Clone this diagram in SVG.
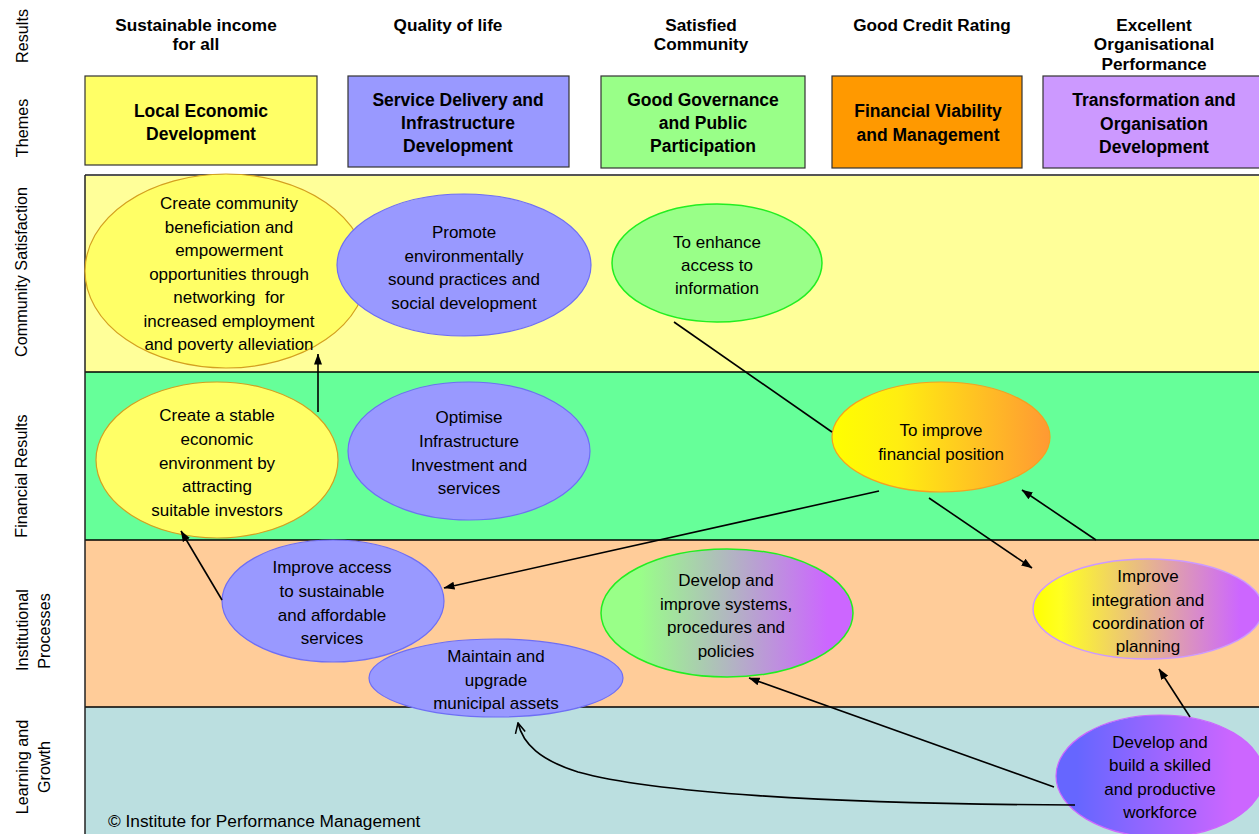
<svg xmlns="http://www.w3.org/2000/svg" width="1259" height="834" viewBox="0 0 1259 834">
<defs>
<style>
text{font-family:"Liberation Sans",Arial,sans-serif;fill:#000}
.hdr{font-size:17.2px;font-weight:bold;text-anchor:middle}
.box{font-size:17.5px;font-weight:bold;text-anchor:middle}
.lbl{font-size:16.2px;text-anchor:middle}
.el{font-size:17px;text-anchor:middle}
.band{stroke:#000;stroke-width:1.5}
.theme{stroke:#333;stroke-width:1.2}
.yel{fill:#FFFF66;stroke:#D4A020;stroke-width:1.2}
.blu{fill:#9999FF;stroke:#6E6EF5;stroke-width:1.2}
.grn{fill:#99FF88;stroke:#22EE22;stroke-width:1.5}
.con{fill:none;stroke:#000;stroke-width:1.6}
</style>
<linearGradient id="gOr" x1="0" y1="0" x2="1" y2="0">
<stop offset="0" stop-color="#FFFF00"/><stop offset="0.3" stop-color="#FFEE11"/><stop offset="1" stop-color="#FF9933"/>
</linearGradient>
<linearGradient id="gGP" x1="0" y1="0" x2="1" y2="0">
<stop offset="0" stop-color="#99FF88"/><stop offset="0.15" stop-color="#99FF88"/><stop offset="0.9" stop-color="#CC66FF"/><stop offset="1" stop-color="#CC66FF"/>
</linearGradient>
<linearGradient id="gYP" x1="0" y1="0" x2="1" y2="0">
<stop offset="0" stop-color="#FFFF00"/><stop offset="0.12" stop-color="#FFFF22"/><stop offset="0.9" stop-color="#CC66FF"/><stop offset="1" stop-color="#CC66FF"/>
</linearGradient>
<linearGradient id="gBP" x1="0" y1="0" x2="1" y2="0">
<stop offset="0" stop-color="#6666FF"/><stop offset="0.1" stop-color="#6666FF"/><stop offset="0.85" stop-color="#CC66FF"/><stop offset="1" stop-color="#CC66FF"/>
</linearGradient>
<marker id="arr" viewBox="0 0 11 10" refX="10.5" refY="5" markerWidth="11" markerHeight="10" markerUnits="userSpaceOnUse" orient="auto">
<path d="M0,1 L11,5 L0,9 z" fill="#000"/>
</marker>
<marker id="open" viewBox="0 0 12 12" refX="11" refY="6" markerWidth="12" markerHeight="12" markerUnits="userSpaceOnUse" orient="auto">
<path d="M1,1 L11,6 L1,11" fill="none" stroke="#000" stroke-width="1.5"/>
</marker>
</defs>

<rect x="0" y="0" width="1259" height="834" fill="#FFFFFF"/>

<!-- row labels -->
<g id="row-labels">
<text class="lbl" transform="translate(28,36) rotate(-90)">Results</text>
<text class="lbl" transform="translate(28,128) rotate(-90)">Themes</text>
<text class="lbl" transform="translate(27,272) rotate(-90)">Community Satisfaction</text>
<text class="lbl" transform="translate(27,476) rotate(-90)">Financial Results</text>
<text class="lbl" transform="translate(28,630) rotate(-90)">Institutional</text>
<text class="lbl" transform="translate(50,631) rotate(-90)">Processes</text>
<text class="lbl" transform="translate(28,767) rotate(-90)">Learning and</text>
<text class="lbl" transform="translate(50,767) rotate(-90)">Growth</text>
</g>

<!-- results headers -->
<g id="results">
<text class="hdr" x="196" y="31">Sustainable income</text>
<text class="hdr" x="196" y="50">for all</text>
<text class="hdr" x="448" y="31">Quality of life</text>
<text class="hdr" x="701" y="31">Satisfied</text>
<text class="hdr" x="701" y="50">Community</text>
<text class="hdr" x="932" y="31">Good Credit Rating</text>
<text class="hdr" x="1154" y="31">Excellent</text>
<text class="hdr" x="1154" y="50">Organisational</text>
<text class="hdr" x="1154" y="70">Performance</text>
</g>

<!-- themes -->
<g id="theme-led">
<rect class="theme" x="85" y="76" width="232" height="89" fill="#FFFF66"/>
<text class="box" x="201" y="117">Local Economic</text>
<text class="box" x="201" y="140">Development</text>
</g>
<g id="theme-sdid">
<rect class="theme" x="348" y="76" width="221" height="91" fill="#9999FF"/>
<text class="box" x="458" y="106">Service Delivery and</text>
<text class="box" x="458" y="129">Infrastructure</text>
<text class="box" x="458" y="152">Development</text>
</g>
<g id="theme-ggpp">
<rect class="theme" x="601" y="76" width="204" height="92" fill="#99FF88"/>
<text class="box" x="703" y="106">Good Governance</text>
<text class="box" x="703" y="129">and Public</text>
<text class="box" x="703" y="152">Participation</text>
</g>
<g id="theme-fvm">
<rect class="theme" x="832" y="76" width="190" height="92" fill="#FF9900"/>
<text class="box" x="928" y="117">Financial Viability</text>
<text class="box" x="928" y="141">and Management</text>
</g>
<g id="theme-tod">
<rect class="theme" x="1043" y="76" width="220" height="92" fill="#CC99FF"/>
<text class="box" x="1154" y="106">Transformation and</text>
<text class="box" x="1154" y="130">Organisation</text>
<text class="box" x="1154" y="153">Development</text>
</g>

<!-- bands -->
<g id="bands">
<rect x="85" y="175" width="1180" height="197" fill="#FFFF99"/>
<rect x="85" y="372" width="1180" height="168" fill="#66FF99"/>
<rect x="85" y="540" width="1180" height="167" fill="#FFCC99"/>
<rect x="85" y="707" width="1180" height="130" fill="#BBDFE0"/>
<line x1="85" y1="175" x2="1259" y2="175" stroke="#555" stroke-width="2.2"/>
<line class="band" x1="85" y1="372" x2="1259" y2="372"/>
<line class="band" x1="85" y1="540" x2="1259" y2="540"/>
<line class="band" x1="85" y1="707" x2="1259" y2="707"/>
<line x1="85" y1="175" x2="85" y2="834" stroke="#222" stroke-width="1.5"/>
</g>

<!-- nodes -->
<g id="n-community">
<ellipse class="yel" cx="226" cy="271" rx="141" ry="97"/>
<text class="el" x="229" y="209">Create community</text>
<text class="el" x="229" y="232.5">beneficiation and</text>
<text class="el" x="229" y="256">empowerment</text>
<text class="el" x="229" y="279.5">opportunities through</text>
<text class="el" x="229" y="303">networking&#160; for</text>
<text class="el" x="229" y="326.5">increased employment</text>
<text class="el" x="229" y="350">and poverty alleviation</text>
</g>
<g id="n-promote">
<ellipse class="blu" cx="464" cy="265" rx="127" ry="71"/>
<text class="el" x="464" y="238">Promote</text>
<text class="el" x="464" y="261.5">environmentally</text>
<text class="el" x="464" y="285">sound practices and</text>
<text class="el" x="464" y="308.5">social development</text>
</g>
<g id="n-enhance">
<ellipse class="grn" cx="717" cy="263" rx="105" ry="59"/>
<text class="el" x="717" y="248">To enhance</text>
<text class="el" x="717" y="271">access to</text>
<text class="el" x="717" y="294">information</text>
</g>
<g id="n-stable">
<ellipse class="yel" cx="217" cy="460" rx="121" ry="78"/>
<text class="el" x="217" y="421">Create a stable</text>
<text class="el" x="217" y="445">economic</text>
<text class="el" x="217" y="469">environment by</text>
<text class="el" x="217" y="492">attracting</text>
<text class="el" x="217" y="516">suitable investors</text>
</g>
<g id="n-optimise">
<ellipse class="blu" cx="469" cy="451" rx="121" ry="69"/>
<text class="el" x="469" y="423">Optimise</text>
<text class="el" x="469" y="447">Infrastructure</text>
<text class="el" x="469" y="471">Investment and</text>
<text class="el" x="469" y="494">services</text>
</g>
<g id="n-financial">
<ellipse cx="941" cy="437" rx="109" ry="55" fill="url(#gOr)" stroke="#F5A020" stroke-width="1.2"/>
<text class="el" x="941" y="436">To improve</text>
<text class="el" x="941" y="460">financial position</text>
</g>
<g id="n-access">
<ellipse class="blu" cx="333" cy="601" rx="111" ry="61"/>
<text class="el" x="332" y="573">Improve access</text>
<text class="el" x="332" y="597">to sustainable</text>
<text class="el" x="332" y="621">and affordable</text>
<text class="el" x="332" y="644">services</text>
</g>
<g id="n-maintain">
<ellipse class="blu" cx="496" cy="678" rx="127" ry="39"/>
<text class="el" x="496" y="662">Maintain and</text>
<text class="el" x="496" y="686">upgrade</text>
<text class="el" x="496" y="709">municipal assets</text>
</g>
<g id="n-systems">
<ellipse cx="727" cy="613" rx="126" ry="64" fill="url(#gGP)" stroke="#22EE22" stroke-width="1.5"/>
<text class="el" x="726" y="586">Develop and</text>
<text class="el" x="726" y="609.5">improve systems,</text>
<text class="el" x="726" y="633">procedures and</text>
<text class="el" x="726" y="657">policies</text>
</g>
<g id="n-integration">
<ellipse cx="1148" cy="609" rx="115" ry="50" fill="url(#gYP)" stroke="#CC99FF" stroke-width="1.5"/>
<text class="el" x="1148" y="582">Improve</text>
<text class="el" x="1148" y="606">integration and</text>
<text class="el" x="1148" y="629">coordination of</text>
<text class="el" x="1148" y="652">planning</text>
</g>
<g id="n-workforce">
<ellipse cx="1160" cy="776" rx="104" ry="61" fill="url(#gBP)" stroke="#CC66FF" stroke-width="1.2"/>
<text class="el" x="1160" y="748">Develop and</text>
<text class="el" x="1160" y="771">build a skilled</text>
<text class="el" x="1160" y="795">and productive</text>
<text class="el" x="1160" y="818">workforce</text>
</g>

<!-- connectors -->
<g id="connectors">
<path class="con" d="M318,412 L318,354" marker-end="url(#arr)"/>
<path class="con" d="M222,600 L181,531" marker-end="url(#arr)"/>
<path class="con" d="M674,322 L832,432"/>
<path class="con" d="M879,491 L444,588" marker-end="url(#arr)"/>
<path class="con" d="M929,498 L1032,568" marker-end="url(#arr)"/>
<path class="con" d="M1096,540 L1022,490" marker-end="url(#arr)"/>
<path class="con" d="M1190,717 L1159,669" marker-end="url(#arr)"/>
<path class="con" d="M1054,787 L749,678" marker-end="url(#arr)"/>
<path class="con" d="M1075,805 C820,804 650,792 578,772 C540,760 523,744 518,723" marker-end="url(#open)"/>
</g>

<text x="108" y="827" font-size="17.3px">© Institute for Performance Management</text>
</svg>
